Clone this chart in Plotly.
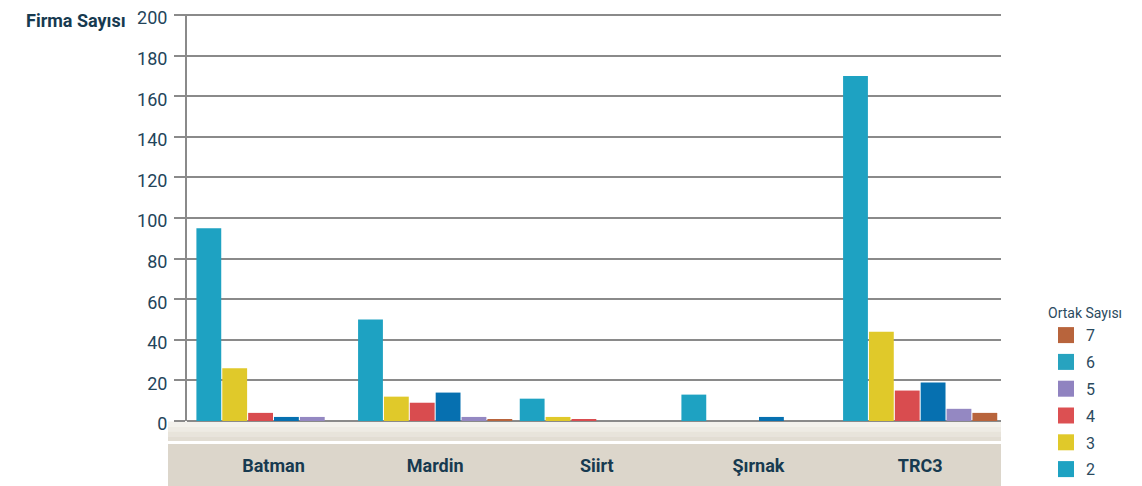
import plotly.graph_objects as go

# ---- data ----
regions = ["Batman", "Mardin", "Siirt", "Şırnak", "TRC3"]
s2 = [95, 50, 11, 13, 170]
s3 = [26, 12, 2, 0, 44]
s4 = [4, 9, 1, 0, 15]
s5 = [2, 14, 0, 2, 19]
s6 = [2, 2, 0, 0, 6]
s7 = [0, 1, 0, 0, 4]
y_ticks = [0, 20, 40, 60, 80, 100, 120, 140, 160, 180, 200]
legend_names = ["7", "6", "5", "4", "3", "2"]

# ---- geometry (page has an 8px body margin) ----
OFF = 8
W, H = 1142 - OFF, 486 - OFF
ML, MT = 179, 6
PLOT_R, PLOT_B = 993, 413
MR, MB = W - PLOT_R, H - PLOT_B
PW, PH = PLOT_R - ML, PLOT_B - MT

def px_x(p):  # screen pixel -> paper x
    return (p - OFF - ML) / PW

def px_y(p):  # screen pixel -> paper y
    return (PLOT_B - (p - OFF)) / PH

bar_colors = ["#1ea2c2", "#e0c92a", "#d94c4f", "#0670b0", "#9488c2", "#b8643c"]
legend_colors = ["#b8643c", "#27a3bf", "#9083c0", "#dc5052", "#e0c92a", "#1ea2c2"]
series = [s2, s3, s4, s5, s6, s7]
font_txt = "Roboto, 'Liberation Sans', Arial, sans-serif"
navy = "#173a50"

fig = go.Figure()
for vals, col in zip(series, bar_colors):
    fig.add_trace(go.Bar(x=regions, y=vals, marker=dict(color=col, line=dict(width=0)),
                         showlegend=False, hoverinfo="x+y"))

for nm, col in zip(legend_names, legend_colors):
    fig.add_trace(go.Scatter(x=[None], y=[None], mode="markers", name=nm, legendgroup=nm,
                             marker=dict(symbol="square", size=16, color=col)))

shapes = []
floor_cols = ["#f3f1ec", "#eeebe4", "#e8e4db", "#e2ddd3"]
top_px, bot_px = 421.5, 441
step = (bot_px - top_px) / len(floor_cols)
for i, c in enumerate(floor_cols):
    shapes.append(dict(type="rect", xref="paper", yref="paper", layer="below",
                       x0=px_x(168), x1=px_x(1001),
                       y0=px_y(top_px + step * i), y1=px_y(top_px + step * (i + 1)),
                       fillcolor=c, line=dict(width=0)))
shapes.append(dict(type="rect", xref="paper", yref="paper", layer="below",
                   x0=px_x(168), x1=px_x(1001), y0=px_y(444), y1=px_y(490),
                   fillcolor="#dcd6cb", line=dict(width=0)))

fig.update_layout(
    width=W, height=H,
    margin=dict(l=ML, r=MR, t=MT, b=MB, pad=0, autoexpand=False),
    paper_bgcolor="white", plot_bgcolor="white",
    barmode="group", bargap=0.04, bargroupgap=0.04,
    shapes=shapes,
    font=dict(family=font_txt, color=navy),
    xaxis=dict(range=[-0.535, 4.5], showgrid=False, showline=False, zeroline=False,
               automargin=False,
               ticks="outside", ticklen=28, tickcolor="rgba(0,0,0,0)",
               tickfont=dict(family=font_txt, size=18, color=navy, weight="bold")),
    yaxis=dict(range=[0, 200.5], tickvals=y_ticks, showgrid=True, gridcolor="#8a8a8a", gridwidth=2,
               automargin=False,
               zeroline=True, zerolinecolor="#8a8a8a", zerolinewidth=2,
               showline=True, linecolor="#8a8a8a", linewidth=2,
               ticks="outside", ticklen=11, tickwidth=2, tickcolor="#8a8a8a",
               ticklabelstandoff=3, ticklabelshift=3, ticklabeloverflow="allow",
               tickfont=dict(family=font_txt, size=18, color="#23445a")),
    legend=dict(x=px_x(1046), y=px_y(300), xanchor="left", yanchor="top",
                title=dict(text="Ortak Sayısı", font=dict(size=14, color="#2b4a5e")),
                font=dict(size=16, color="#2b4a5e"), itemwidth=30, tracegroupgap=3,
                bgcolor="rgba(0,0,0,0)"),
    annotations=[dict(text="<b>Firma Sayısı</b>", xref="paper", yref="paper",
                      x=px_x(128), y=px_y(8), xanchor="right", yanchor="top",
                      showarrow=False, font=dict(size=18, color=navy))],
)

fig.write_html("out.html")
